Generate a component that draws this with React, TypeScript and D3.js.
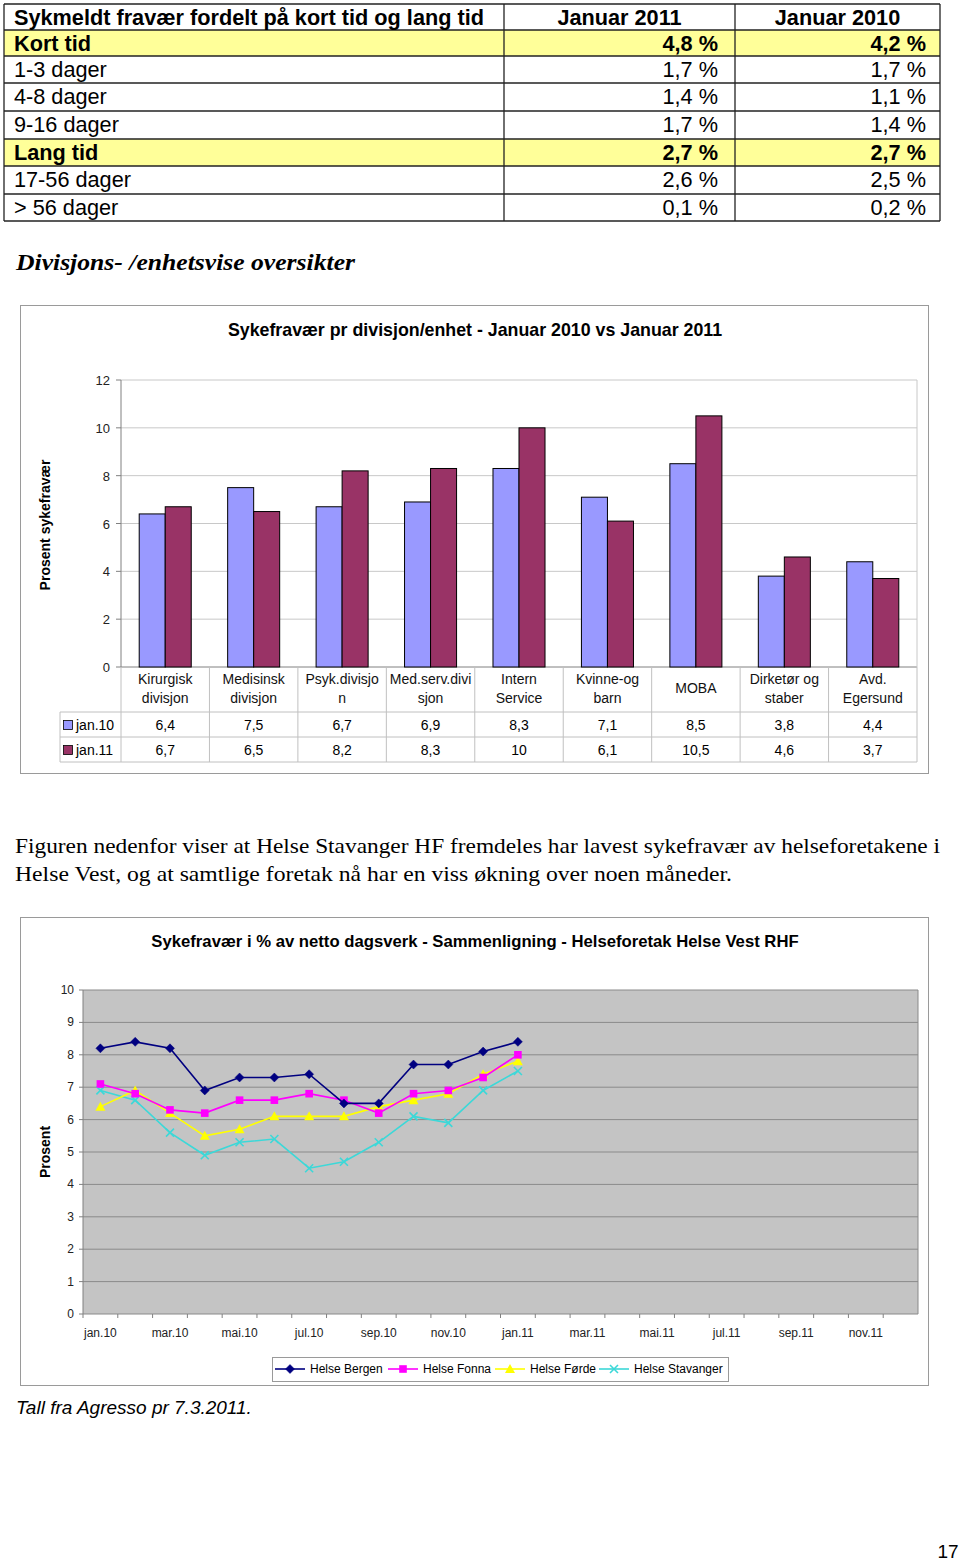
import React from "react";
import * as d3 from "d3";

// ---------- Table data ----------
const tableTitle = "Sykmeldt fravær fordelt på kort tid og lang tid";
const tableCols = ["Januar 2011", "Januar 2010"];
const tableRows = ["Kort tid", "1-3 dager", "4-8 dager", "9-16 dager", "Lang tid", "17-56 dager", "> 56 dager"];
const tableJan2011 = ["4,8 %", "1,7 %", "1,4 %", "1,7 %", "2,7 %", "2,6 %", "0,1 %"];
const tableJan2010 = ["4,2 %", "1,7 %", "1,1 %", "1,4 %", "2,7 %", "2,5 %", "0,2 %"];
const highlightedRows = ["Kort tid", "Lang tid"];

// ---------- Bar chart data ----------
const barTitle = "Sykefravær pr divisjon/enhet - Januar 2010 vs Januar 2011";
const barCategories = [
  ["Kirurgisk", "divisjon"],
  ["Medisinsk", "divisjon"],
  ["Psyk.divisjo", "n"],
  ["Med.serv.divi", "sjon"],
  ["Intern", "Service"],
  ["Kvinne-og", "barn"],
  ["MOBA"],
  ["Dirketør og", "staber"],
  ["Avd.", "Egersund"],
];
const barSeriesNames = ["jan.10", "jan.11"];
const barJan10 = [6.4, 7.5, 6.7, 6.9, 8.3, 7.1, 8.5, 3.8, 4.4];
const barJan11 = [6.7, 6.5, 8.2, 8.3, 10, 6.1, 10.5, 4.6, 3.7];
const barYTicks = [0, 2, 4, 6, 8, 10, 12];

// ---------- Line chart data ----------
const lineTitle = "Sykefravær i % av netto dagsverk - Sammenligning - Helseforetak Helse Vest RHF";
const months = [
  "jan.10", "feb.10", "mar.10", "apr.10", "mai.10", "jun.10", "jul.10", "aug.10", "sep.10", "okt.10", "nov.10", "des.10",
  "jan.11", "feb.11", "mar.11", "apr.11", "mai.11", "jun.11", "jul.11", "aug.11", "sep.11", "okt.11", "nov.11", "des.11",
];
const lineSeriesNames = ["Helse Bergen", "Helse Fonna", "Helse Førde", "Helse Stavanger"];
const bergen = [8.2, 8.4, 8.2, 6.9, 7.3, 7.3, 7.4, 6.5, 6.5, 7.7, 7.7, 8.1, 8.4];
const fonna = [7.1, 6.8, 6.3, 6.2, 6.6, 6.6, 6.8, 6.6, 6.2, 6.8, 6.9, 7.3, 8.0];
const forde = [6.4, 6.9, 6.2, 5.5, 5.7, 6.1, 6.1, 6.1, 6.4, 6.6, 6.8, 7.4, 7.8];
const stavanger = [6.9, 6.6, 5.6, 4.9, 5.3, 5.4, 4.5, 4.7, 5.3, 6.1, 5.9, 6.9, 7.5];
const lineYTicks = [0, 1, 2, 3, 4, 5, 6, 7, 8, 9, 10];

const SANS = "'Liberation Sans', Arial, Helvetica, sans-serif";
const SERIF = "'Liberation Serif', 'DejaVu Serif', serif";

function Marker({ type, x, y, color }: { type: string; x: number; y: number; color: string }) {
  if (type === "diamond") {
    const r = 4.5;
    return <path d={`M${x},${y - r}L${x + r},${y}L${x},${y + r}L${x - r},${y}Z`} fill={color} stroke={color} strokeWidth={0.5} />;
  }
  if (type === "square") {
    return <rect x={x - 3.8} y={y - 3.8} width={7.6} height={7.6} fill={color} />;
  }
  if (type === "triangle") {
    return <path d={`M${x},${y - 5}L${x + 5},${y + 4}L${x - 5},${y + 4}Z`} fill={color} />;
  }
  const r = 4;
  return <path d={`M${x - r},${y - r}L${x + r},${y + r}M${x + r},${y - r}L${x - r},${y + r}`} stroke={color} strokeWidth={1.6} />;
}

export default function App() {
  // ----- table layout -----
  const rowYs = [4, 30, 56, 83, 111, 139, 166, 194, 221];
  const colXs = [4, 504, 735, 940];

  // ----- bar chart -----
  const yBar = d3.scaleLinear().domain([0, 12]).range([667, 380]);
  const xBar = d3.scaleBand<number>().domain(d3.range(barCategories.length)).range([121, 917]);
  const xInner = d3.scaleBand<string>().domain(barSeriesNames).range([0, xBar.bandwidth()]).paddingOuter(0.7);
  const barColors = ["#9999ff", "#993366"];
  const barValues = [barJan10, barJan11];

  // ----- line chart -----
  const yL = d3.scaleLinear().domain([0, 10]).range([1314, 990]);
  const xL = d3.scaleBand<string>().domain(months).range([83, 918]);
  const lineData = [bergen, fonna, forde, stavanger];
  const lineColors = ["#000080", "#ff00ff", "#ffff00", "#3cd8d8"];
  const markerTypes = ["diamond", "square", "triangle", "x"];
  const lineGen = d3
    .line<number>()
    .x((_, i) => (xL(months[i]) as number) + xL.bandwidth() / 2)
    .y((d) => yL(d));
  const legendXs = [275, 388, 495, 599];

  return (
    <svg width={960} height={1561} style={{ position: "absolute", left: 0, top: 0, background: "#fff" }} fontFamily={SANS}>
      <rect x={0} y={0} width={960} height={1561} fill="#fff" />

      {/* ---------- Table ---------- */}
      {tableRows.map((r, i) =>
        highlightedRows.includes(r) ? (
          <rect key={"hl" + i} x={colXs[0]} y={rowYs[i + 1]} width={colXs[3] - colXs[0]} height={rowYs[i + 2] - rowYs[i + 1]} fill="#ffff99" />
        ) : null
      )}
      {rowYs.map((y, i) => (
        <line key={"hr" + i} x1={colXs[0]} x2={colXs[3]} y1={y} y2={y} stroke="#222" strokeWidth={1.3} />
      ))}
      {colXs.map((x, i) => (
        <line key={"vc" + i} x1={x} x2={x} y1={rowYs[0]} y2={rowYs[rowYs.length - 1]} stroke="#222" strokeWidth={1.3} />
      ))}
      <text x={14} y={25} fontSize={21.7} fontWeight="bold" fill="#000">{tableTitle}</text>
      {tableCols.map((c, i) => (
        <text key={"tc" + i} x={(colXs[i + 1] + colXs[i + 2]) / 2} y={25} fontSize={21.7} fontWeight="bold" textAnchor="middle">{c}</text>
      ))}
      {tableRows.map((r, i) => {
        const bold = highlightedRows.includes(r);
        const yb = rowYs[i + 1] + 20.5;
        return (
          <g key={"tr" + i} fontSize={21.7} fontWeight={bold ? "bold" : "normal"}>
            <text x={14} y={yb}>{r}</text>
            <text x={718} y={yb} textAnchor="end">{tableJan2011[i]}</text>
            <text x={926} y={yb} textAnchor="end">{tableJan2010[i]}</text>
          </g>
        );
      })}

      {/* ---------- Heading ---------- */}
      <text x={16} y={270} fontFamily={SERIF} fontSize={23} fontWeight="bold" fontStyle="italic" textLength={339} lengthAdjust="spacingAndGlyphs">
        Divisjons- /enhetsvise oversikter
      </text>

      {/* ---------- Bar chart ---------- */}
      <rect x={20.5} y={305.5} width={908} height={468} fill="#fff" stroke="#9a9a9a" strokeWidth={1} />
      <text x={475} y={336} fontSize={17.8} fontWeight="bold" textAnchor="middle">{barTitle}</text>
      <text transform="translate(50,525) rotate(-90)" fontSize={14} fontWeight="bold" textAnchor="middle">Prosent sykefravær</text>
      {barYTicks.map((t) => (
        <g key={"by" + t}>
          <line x1={121} x2={917} y1={yBar(t)} y2={yBar(t)} stroke={t === 0 ? "#808080" : "#c8c8c8"} strokeWidth={1} />
          <line x1={116} x2={121} y1={yBar(t)} y2={yBar(t)} stroke="#808080" />
          <text x={110} y={yBar(t) + 5} fontSize={13} textAnchor="end" fill="#222">{t}</text>
        </g>
      ))}
      <line x1={121} x2={121} y1={380} y2={667} stroke="#808080" />
      <line x1={917} x2={917} y1={380} y2={667} stroke="#c8c8c8" />
      {barValues.map((vals, s) =>
        vals.map((v, i) => (
          <rect
            key={`bar${s}-${i}`}
            x={(xBar(i) as number) + (xInner(barSeriesNames[s]) as number)}
            y={yBar(v)}
            width={xInner.bandwidth()}
            height={yBar(0) - yBar(v)}
            fill={barColors[s]}
            stroke="#000"
            strokeWidth={1}
          />
        ))
      )}
      {/* data table under bar chart */}
      {d3.range(barCategories.length + 1).map((i) => {
        const x = i < barCategories.length ? (xBar(i) as number) : 917;
        return <line key={"dv" + i} x1={x} x2={x} y1={667} y2={762} stroke="#c0c0c0" />;
      })}
      {[712, 737, 762].map((y) => (
        <line key={"dh" + y} x1={60} x2={917} y1={y} y2={y} stroke="#c0c0c0" />
      ))}
      <line x1={60} x2={60} y1={712} y2={762} stroke="#c0c0c0" />
      {barCategories.map((lines, i) => {
        const cx = (xBar(i) as number) + xBar.bandwidth() / 2;
        const startY = lines.length === 1 ? 693 : 684;
        return (
          <text key={"bc" + i} fontSize={14} textAnchor="middle" fill="#111">
            {lines.map((l, j) => (
              <tspan key={j} x={cx} y={startY + j * 19}>{l}</tspan>
            ))}
          </text>
        );
      })}
      {barValues.map((vals, s) => (
        <g key={"row" + s}>
          <rect x={63.5} y={720.5 + s * 25} width={9} height={9} fill={barColors[s]} stroke="#000" strokeWidth={0.8} />
          <text x={76} y={730 + s * 25} fontSize={14}>{barSeriesNames[s]}</text>
          {vals.map((v, i) => (
            <text key={i} x={(xBar(i) as number) + xBar.bandwidth() / 2} y={730 + s * 25} fontSize={14} textAnchor="middle">
              {String(v).replace(".", ",")}
            </text>
          ))}
        </g>
      ))}

      {/* ---------- Paragraph ---------- */}
      <text x={15} y={853} fontFamily={SERIF} fontSize={22} textLength={925} lengthAdjust="spacingAndGlyphs">
        Figuren nedenfor viser at Helse Stavanger HF fremdeles har lavest sykefravær av helseforetakene i
      </text>
      <text x={15} y={881} fontFamily={SERIF} fontSize={22} textLength={717} lengthAdjust="spacingAndGlyphs">
        Helse Vest, og at samtlige foretak nå har en viss økning over noen måneder.
      </text>

      {/* ---------- Line chart ---------- */}
      <rect x={20.5} y={917.5} width={908} height={468} fill="#fff" stroke="#9a9a9a" strokeWidth={1} />
      <text x={475} y={947} fontSize={16.7} fontWeight="bold" textAnchor="middle">{lineTitle}</text>
      <text transform="translate(50,1152) rotate(-90)" fontSize={14} fontWeight="bold" textAnchor="middle">Prosent</text>
      <rect x={83} y={990} width={835} height={324} fill="#c4c4c4" />
      {lineYTicks.map((t) => (
        <g key={"ly" + t}>
          <line x1={83} x2={918} y1={yL(t)} y2={yL(t)} stroke="#8a8a8a" strokeWidth={1} />
          <line x1={79} x2={83} y1={yL(t)} y2={yL(t)} stroke="#808080" />
          <text x={74} y={yL(t) + 4} fontSize={12} textAnchor="end" fill="#222">{t}</text>
        </g>
      ))}
      <line x1={83} x2={83} y1={990} y2={1314} stroke="#808080" />
      <line x1={918} x2={918} y1={990} y2={1314} stroke="#8a8a8a" />
      {months.map((m, i) => (
        <line key={"xt" + i} x1={xL(m) as number} x2={xL(m) as number} y1={1314} y2={1318} stroke="#808080" />
      ))}
      {months.map((m, i) =>
        i % 2 === 0 ? (
          <text key={"xl" + i} x={(xL(m) as number) + xL.bandwidth() / 2} y={1337} fontSize={12} textAnchor="middle" fill="#222">
            {m}
          </text>
        ) : null
      )}
      {[3, 2, 1, 0].map((s) => (
        <g key={"ls" + s}>
          <path d={lineGen(lineData[s]) || ""} fill="none" stroke={lineColors[s]} strokeWidth={1.6} />
          {lineData[s].map((v, i) => (
            <Marker key={i} type={markerTypes[s]} x={(xL(months[i]) as number) + xL.bandwidth() / 2} y={yL(v)} color={lineColors[s]} />
          ))}
        </g>
      ))}
      {/* legend */}
      <rect x={272.5} y={1357.5} width={456} height={24} fill="#fff" stroke="#9a9a9a" />
      {lineSeriesNames.map((n, s) => (
        <g key={"lg" + s}>
          <line x1={legendXs[s]} x2={legendXs[s] + 30} y1={1369} y2={1369} stroke={lineColors[s]} strokeWidth={1.6} />
          <Marker type={markerTypes[s]} x={legendXs[s] + 15} y={1369} color={lineColors[s]} />
          <text x={legendXs[s] + 35} y={1373} fontSize={12}>{n}</text>
        </g>
      ))}

      {/* ---------- Footer ---------- */}
      <text x={16} y={1414} fontSize={19} fontStyle="italic">Tall fra Agresso pr 7.3.2011.</text>
      <text x={948} y={1558} fontSize={19} textAnchor="middle">17</text>
    </svg>
  );
}
